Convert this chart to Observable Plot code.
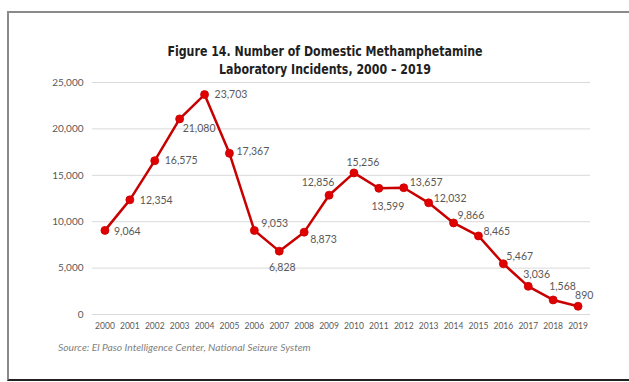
<!DOCTYPE html>
<html><head><meta charset="utf-8">
<script src="https://cdn.jsdelivr.net/npm/d3@7"></script>
<script src="https://cdn.jsdelivr.net/npm/@observablehq/plot@0.6"></script>
<style>
body{margin:0;background:#fff;}
#wrap{position:relative;width:629px;height:382px;overflow:hidden;font-family:Lato,sans-serif;}
#frame{position:absolute;left:7px;top:11px;width:640px;height:366px;border-left:2px solid #8a8a8a;border-top:2px solid #8a8a8a;border-bottom:2px solid #222;}
#title{position:absolute;left:0;width:650px;top:42px;text-align:center;font-family:"Liberation Sans Narrow","DejaVu Sans Condensed",sans-serif;font-weight:bold;font-size:14px;line-height:18px;color:#1f1f1f;transform:scaleX(0.875);transform-origin:325px 0;}
#chart{position:absolute;left:0;top:75px;}
#source{position:absolute;left:58px;top:341px;font-style:italic;font-size:10.3px;color:#7f7f7f;}
</style>
</head>
<body>
<div id="wrap">
  <div id="frame"></div>
  <div id="title"></div>
  <div id="chart"></div>
  <div id="source"></div>
</div>
<script>
const titleLines = ["Figure 14. Number of Domestic Methamphetamine", "Laboratory Incidents, 2000 \u2013 2019"];
const sourceText = "Source: El Paso Intelligence Center, National Seizure System";
const years = [2000,2001,2002,2003,2004,2005,2006,2007,2008,2009,2010,2011,2012,2013,2014,2015,2016,2017,2018,2019];
const incidents = [9064,12354,16575,21080,23703,17367,9053,6828,8873,12856,15256,13599,13657,12032,9866,8465,5467,3036,1568,890];
const yTicks = [0,5000,10000,15000,20000,25000];

// label placement: [dx, dy, anchor]
const labelPlacement = [
  [9,1,"start"],[10,1,"start"],[10,0,"start"],[3,10,"start"],[10,0,"start"],
  [7,-2,"start"],[7,-7,"start"],[3,16,"middle"],[6,7,"start"],[-11,-13,"middle"],
  [9,-10,"middle"],[9,18,"middle"],[6,-5,"start"],[5,-4,"start"],[4,-7,"start"],
  [5,-4,"start"],[3,-7,"start"],[-5,-12,"start"],[-4,-13,"start"],[-3,-11,"start"]
];

document.getElementById("title").innerHTML = titleLines.join("<br>");
document.getElementById("source").textContent = sourceText;

const data = years.map((y,i)=>({year:y, value:incidents[i]}));
const fmt = d3.format(",");

const labelMarks = data.map((d,i)=>Plot.text([d], {
  x:"year", y:"value", text: d=>fmt(d.value),
  dx: labelPlacement[i][0], dy: labelPlacement[i][1], textAnchor: labelPlacement[i][2],
  fill:"#595959", fontSize:10.5
}));

const chart = Plot.plot({
  width: 629,
  height: 260,
  marginTop: 7,
  marginBottom: 21,
  marginLeft: 92,
  marginRight: 39,
  style: {fontFamily: "Lato, sans-serif", background: "transparent"},
  x: {domain: [1999.5, 2019.5]},
  y: {domain: [0, 25000]},
  marks: [
    Plot.gridY(yTicks, {stroke:"#d9d9d9", strokeOpacity:1, strokeWidth:1}),
    Plot.axisY(yTicks, {tickSize:0, tickPadding:9, tickFormat: fmt, color:"#595959", fontSize:10, label:null}),
    Plot.axisX(years, {tickSize:0, tickPadding:8, tickFormat: d=>String(d), color:"#595959", fontSize:8.5, label:null}),
    Plot.line(data, {x:"year", y:"value", stroke:"#c80000", strokeWidth:2.5}),
    Plot.dot(data, {x:"year", y:"value", r:4, fill:"#e00000", stroke:"#c80000", strokeWidth:0.8}),
    ...labelMarks
  ]
});
document.getElementById("chart").appendChild(chart);
</script>
</body></html>
